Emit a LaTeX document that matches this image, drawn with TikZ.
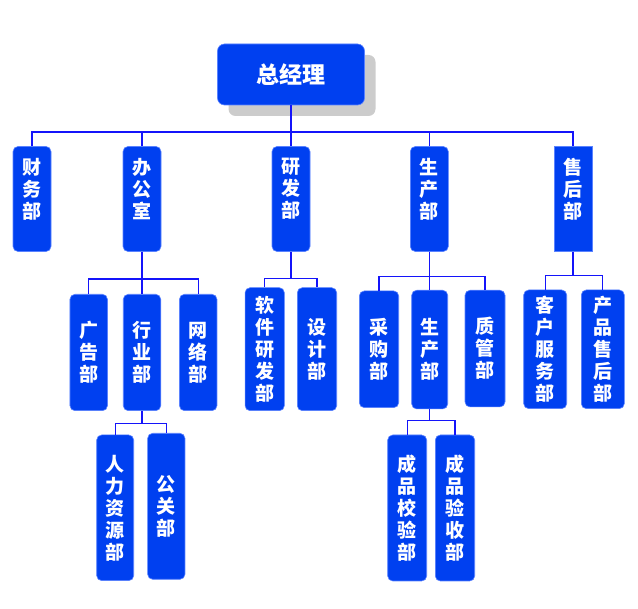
\documentclass[tikz,border=0pt]{standalone}
\usepackage{fontspec}
\newfontfamily\cjk{Noto Sans CJK SC}
\usetikzlibrary{shadows}
\definecolor{boxblue}{RGB}{0,64,240}
\definecolor{edgeblue}{RGB}{90,130,255}
\definecolor{lineblue}{RGB}{20,20,250}
\definecolor{shadowgray}{RGB}{204,204,204}
\begin{document}
\begin{tikzpicture}[x=1pt,y=-1pt,
    dept/.style={rectangle, rounded corners=5pt, fill=boxblue, draw=edgeblue, line width=0.6pt,
      text=white, align=center, inner sep=0pt, minimum width=38pt,
      font=\cjk\bfseries\fontsize{19}{22}\selectfont},
    link/.style={draw=lineblue, line width=1.3pt}]
    \useasboundingbox (0,0) rectangle (638,609);

    % top
    \node (zjl) at (291,74.5) [dept, rounded corners=7pt, minimum width=147pt, minimum height=61pt,
      font=\cjk\bfseries\fontsize{23}{26}\selectfont,
      general shadow={shadow xshift=11pt, shadow yshift=-11pt, fill=shadowgray, draw=none}] {总经理};

    % first level
    \node (cw) at (32,199) [dept, minimum height=105pt] {财\\务\\部\\\mbox{}};
    \node (bgs) at (142,199) [dept, minimum height=105pt] {办\\公\\室\\\mbox{}};
    \node (yf) at (291,199) [dept, minimum height=105pt] {研\\发\\部\\\mbox{}};
    \node (sc) at (429.3,199) [dept, minimum height=105pt] {生\\产\\部\\\mbox{}};
    \node (sh) at (573,199) [dept, sharp corners, minimum height=105pt] {售\\后\\部\\\mbox{}};

    \coordinate (b0) at (291,132);
    \draw[link] (zjl.south) -- (b0);
    \foreach \n in {cw,bgs,yf,sc,sh} \draw[link] (b0) -| (\n.north);

    % second level
    \node (gg) at (88.7,352.5) [dept, minimum width=37.5pt, minimum height=116.4pt] {广\\告\\部};
    \node (hy) at (142,352.5) [dept, minimum width=37.5pt, minimum height=116.4pt] {行\\业\\部};
    \node (wl) at (198.2,352.5) [dept, minimum width=37.5pt, minimum height=116.4pt] {网\\络\\部};

    \node (rj) at (264.7,349.2) [dept, minimum width=39.3pt, minimum height=123pt] {软\\件\\研\\发\\部};
    \node (sj) at (317,349.2) [dept, minimum width=39.4pt, minimum height=123pt] {设\\计\\部};

    \node (cg) at (379,349.3) [dept, minimum width=39.4pt, minimum height=116.7pt] {采\\购\\部};
    \node (sc2) at (429.7,349.6) [dept, minimum width=36pt, minimum height=118.7pt] {生\\产\\部};
    \node (zg) at (485,348.6) [dept, minimum width=40pt, minimum height=116.7pt] {质\\管\\部};

    \node (kh) at (545.2,349.3) [dept, minimum width=43pt, minimum height=118.7pt] {客\\户\\服\\务\\部};
    \node (cp) at (602.8,349.3) [dept, minimum width=43pt, minimum height=118.7pt] {产\\品\\售\\后\\部};

    \coordinate (b1) at (142,279);
    \coordinate (b2) at (291,278.3);
    \coordinate (b3) at (429.3,276.7);
    \coordinate (b4) at (573,275.7);
    \draw[link] (bgs.south) -- (b1);
    \foreach \n in {gg,hy,wl} \draw[link] (b1) -| (\n.north);
    \draw[link] (yf.south) -- (b2);
    \foreach \n in {rj,sj} \draw[link] (b2) -| (\n.north);
    \draw[link] (sc.south) -- (b3);
    \foreach \n in {cg,sc2,zg} \draw[link] (b3) -| (\n.north);
    \draw[link] (sh.south) -- (b4);
    \foreach \n in {kh,cp} \draw[link] (b4) -| (\n.north);

    % third level
    \node (rl) at (115.2,507.8) [dept, minimum width=37pt, minimum height=145.7pt] {人\\力\\资\\源\\部};
    \node (gg3) at (166.3,506.3) [dept, minimum width=37.3pt, minimum height=146pt] {公\\关\\部};

    \node (cj) at (407.2,508) [dept, minimum width=39pt, minimum height=146pt] {成\\品\\校\\验\\部};
    \node (cy) at (455,508) [dept, minimum width=39.4pt, minimum height=146pt] {成\\品\\验\\收\\部};

    \coordinate (b5) at (142,423.3);
    \coordinate (b6) at (429.7,420.7);
    \draw[link] (hy.south) -- (b5);
    \foreach \n in {rl,gg3} \draw[link] (b5) -| (\n.north);
    \draw[link] (sc2.south) -- (b6);
    \foreach \n in {cj,cy} \draw[link] (b6) -| (\n.north);
\end{tikzpicture}
\end{document}
